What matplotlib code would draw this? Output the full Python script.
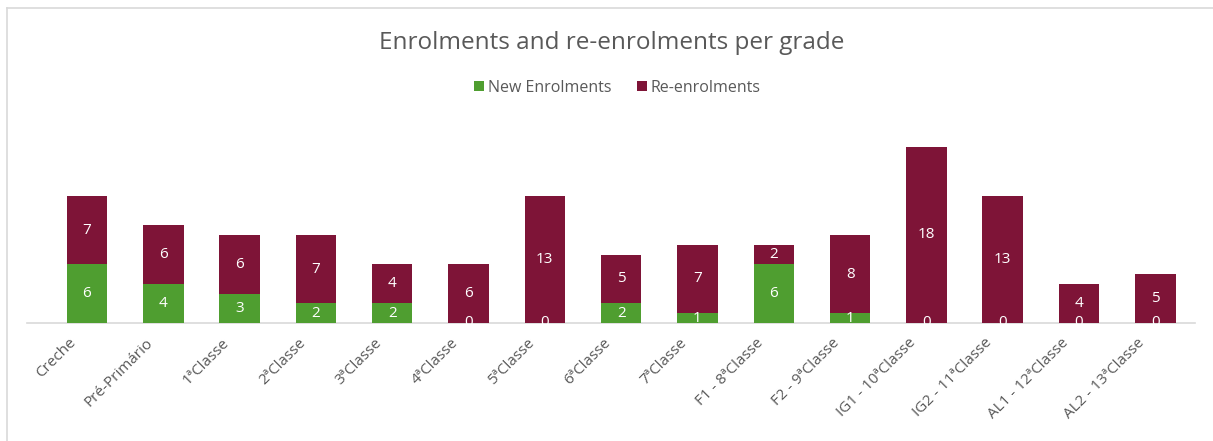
import matplotlib
matplotlib.use("Agg")
import matplotlib.pyplot as plt
from matplotlib.lines import Line2D
import matplotlib.transforms as mtransforms
import numpy as np

categories = ["Creche", "Pré-Primário", "1ªClasse", "2ªClasse", "3ªClasse", "4ªClasse",
              "5ªClasse", "6ªClasse", "7ªClasse", "F1 - 8ªClasse", "F2 - 9ªClasse",
              "IG1 - 10ªClasse", "IG2 - 11ªClasse", "AL1 - 12ªClasse", "AL2 - 13ªClasse"]
new_enrolments = [6, 4, 3, 2, 2, 0, 0, 2, 1, 6, 1, 0, 0, 0, 0]
re_enrolments = [7, 6, 6, 7, 4, 6, 13, 5, 7, 2, 8, 18, 13, 4, 5]

GREEN = "#4F9E30"
MAROON = "#7E1437"
GRAY = "#595959"

plt.rcParams['font.family'] = ['Open Sans', 'DejaVu Sans']

fig = plt.figure(figsize=(12.13, 4.41), dpi=100)
W, H = 1213, 441
ax = fig.add_axes([27 / W, (H - 323) / H, (1195 - 27) / W, 195.6 / H])

x = np.arange(len(categories))
b1 = ax.bar(x, new_enrolments, width=0.53, color=GREEN, label="New Enrolments", zorder=3)
b2 = ax.bar(x, re_enrolments, width=0.53, bottom=new_enrolments, color=MAROON,
            label="Re-enrolments", zorder=3)
ax.bar_label(b1, labels=[str(v) for v in new_enrolments], label_type='center',
             color='white', fontsize=11, zorder=4)
ax.bar_label(b2, labels=[str(v) for v in re_enrolments], label_type='center',
             color='white', fontsize=11, zorder=4)

ax.set_xlim(-0.786, 14.52)
ax.set_ylim(0, 20)
for s in ['top', 'right', 'left']:
    ax.spines[s].set_visible(False)
ax.spines['bottom'].set_color('#D9D9D9')
ax.spines['bottom'].set_linewidth(1.2)
ax.set_yticks([])
ax.set_xticks(x)
ax.set_xticklabels(categories, rotation=45, ha='right', rotation_mode='anchor',
                   fontsize=11, color=GRAY)
ax.tick_params(axis='x', length=0, pad=9)
offset = mtransforms.ScaledTranslation(-18 / 100, 0, fig.dpi_scale_trans)
for lbl in ax.get_xticklabels():
    lbl.set_transform(lbl.get_transform() + offset)

fig.text(0.5 + 5 / W, (H - 43) / H, "Enrolments and re-enrolments per grade", ha='center',
         va='center', fontsize=17.5, color=GRAY)
leg = fig.legend(handles=[b1, b2], loc='center', bbox_to_anchor=(0.5 + 11 / W, (H - 88) / H),
                 ncol=2, frameon=False, fontsize=11.5, handlelength=0.6, handleheight=0.6,
                 columnspacing=1.6, handletextpad=0.25)
for t in leg.get_texts():
    t.set_color(GRAY)

fig.add_artist(Line2D([6.5 / W, 6.5 / W], [0, (H - 7.5) / H], transform=fig.transFigure,
                      color='#D9D9D9', lw=1.2))
fig.add_artist(Line2D([6.5 / W, 1], [(H - 7.5) / H, (H - 7.5) / H], transform=fig.transFigure,
                      color='#D9D9D9', lw=1.2))

fig.savefig("out.png", dpi=100)
